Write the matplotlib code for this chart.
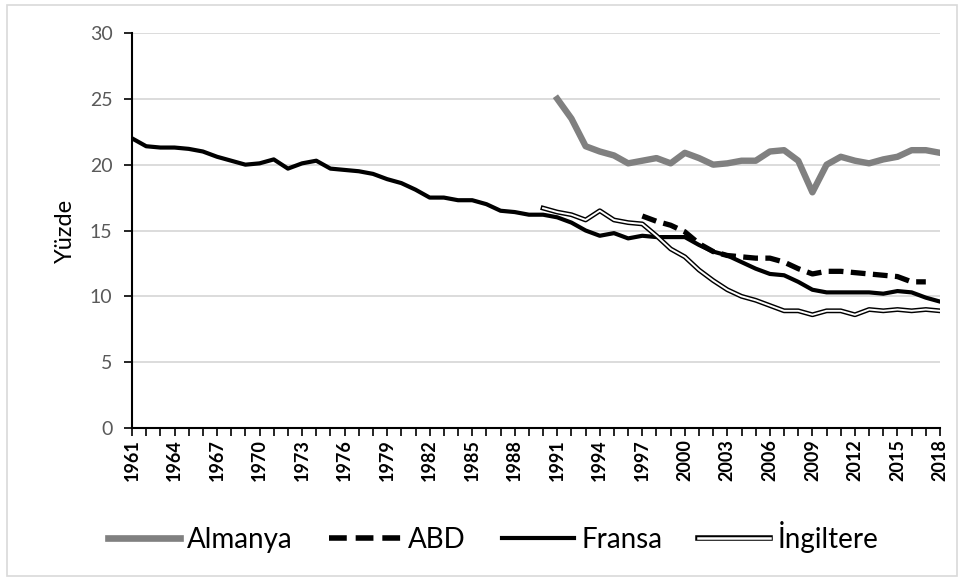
import matplotlib
matplotlib.use("Agg")
import matplotlib.pyplot as plt
from matplotlib.lines import Line2D
from matplotlib.patches import Rectangle
from matplotlib.legend_handler import HandlerTuple

plt.rcParams["font.family"] = ["Lato", "DejaVu Sans"]

fr_years = list(range(1961, 2019))
fransa = [22.0, 21.4, 21.3, 21.3, 21.2, 21.0, 20.6, 20.3, 20.0, 20.1,
          20.4, 19.7, 20.1, 20.3, 19.7, 19.6, 19.5, 19.3, 18.9, 18.6,
          18.1, 17.5, 17.5, 17.3, 17.3, 17.0, 16.5, 16.4, 16.2, 16.2,
          16.0, 15.6, 15.0, 14.6, 14.8, 14.4, 14.6, 14.5, 14.5, 14.5,
          13.9, 13.4, 13.1, 12.6, 12.1, 11.7, 11.6, 11.1, 10.5, 10.3,
          10.3, 10.3, 10.3, 10.2, 10.4, 10.3, 9.9, 9.6]

de_years = list(range(1991, 2019))
almanya = [25.0, 23.5, 21.4, 21.0, 20.7, 20.1, 20.3, 20.5, 20.1, 20.9,
           20.5, 20.0, 20.1, 20.3, 20.3, 21.0, 21.1, 20.3, 17.9, 20.0,
           20.6, 20.3, 20.1, 20.4, 20.6, 21.1, 21.1, 20.9]

us_years = list(range(1997, 2018))
abd = [16.1, 15.7, 15.4, 14.9, 14.0, 13.4, 13.1, 13.0, 12.9, 12.9,
       12.6, 12.1, 11.7, 11.9, 11.9, 11.8, 11.7, 11.6, 11.5, 11.1, 11.1]

uk_years = list(range(1990, 2019))
ingiltere = [16.7, 16.4, 16.2, 15.8, 16.5, 15.8, 15.6, 15.5, 14.6, 13.6,
             13.0, 12.0, 11.2, 10.5, 10.0, 9.7, 9.3, 8.9, 8.9, 8.6,
             8.9, 8.9, 8.6, 9.0, 8.9, 9.0, 8.9, 9.0, 8.9]

labels = ["Almanya", "ABD", "Fransa", "İngiltere"]

W, H = 963, 580
fig = plt.figure(figsize=(W / 100, H / 100), dpi=100)
fig.patches.append(Rectangle((7 / W, 4 / H), 950 / W, 571 / H, transform=fig.transFigure,
                             fill=False, edgecolor="#d9d9d9", linewidth=1.2))
ax = fig.add_axes([132 / W, (H - 428) / H, 808 / W, 395 / H])

ax.plot(de_years, almanya, color="#808080", lw=4.6, solid_joinstyle="round", zorder=3)
ax.plot(us_years, abd, color="black", lw=3.8, dashes=(2.8, 1.4), dash_capstyle="butt", zorder=4)
ax.plot(fr_years, fransa, color="black", lw=3.0, solid_joinstyle="round", zorder=5)
ax.plot(uk_years, ingiltere, color="black", lw=3.5, zorder=6)
ax.plot(uk_years, ingiltere, color="white", lw=1.4, zorder=7)

ax.set_xlim(1961, 2018)
ax.set_ylim(0, 30)
ax.set_yticks(range(0, 31, 5))
ax.set_xticks(fr_years, minor=True)
ax.set_xticks(list(range(1961, 2019, 3)))
ax.set_xticklabels([str(y) for y in range(1961, 2019, 3)], rotation=90, fontsize=13,
                   color="black", fontweight="bold")
ax.tick_params(axis="x", which="both", length=6, width=1.2, direction="out", pad=2)
ax.tick_params(axis="y", length=6, width=1.2, direction="out", labelsize=14,
               labelcolor="#595959", pad=8)
ax.grid(axis="y", color="#d9d9d9", lw=1.3, zorder=0)
for s in ["top", "right"]:
    ax.spines[s].set_visible(False)
for s in ["left", "bottom"]:
    ax.spines[s].set_linewidth(1.5)
ax.set_ylabel("Yüzde", fontsize=17, labelpad=10)

handles = [
    Line2D([], [], color="#808080", lw=4.8),
    Line2D([], [], color="black", lw=4.0, dashes=(3.2, 1.6), dash_capstyle="butt"),
    Line2D([], [], color="black", lw=3.0),
    (Line2D([], [], color="black", lw=4.0), Line2D([], [], color="white", lw=1.8)),
]
fig.legend(handles, labels, loc="center", bbox_to_anchor=(0.512, 0.074), ncol=4,
           frameon=False, fontsize=20, handlelength=2.6, handletextpad=0.25,
           columnspacing=1.3, handler_map={tuple: HandlerTuple(ndivide=1, pad=0)})

fig.savefig("out.png", dpi=100)
